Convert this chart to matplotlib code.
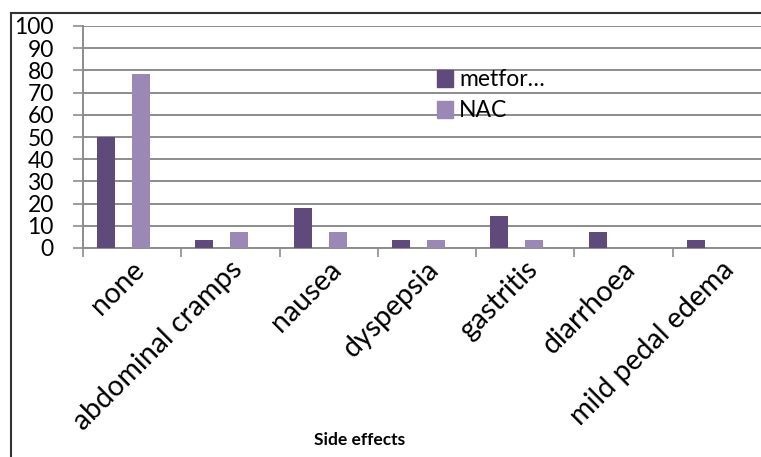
import matplotlib
matplotlib.use("Agg")
import matplotlib.pyplot as plt
import matplotlib.transforms as mtransforms
import numpy as np
from matplotlib.patches import Patch
from matplotlib.lines import Line2D

categories = ["none", "abdominal cramps", "nausea", "dyspepsia",
              "gastritis", "diarrhoea", "mild pedal edema"]
metformin = [50, 3.6, 17.9, 3.6, 14.3, 7.1, 3.6]
nac = [78.6, 7.1, 7.1, 3.6, 3.6, 0, 0]
series_names = ["metfor\u2026", "NAC"]
yticks = list(range(0, 101, 10))

plt.rcParams['font.family'] = ['Lato', 'DejaVu Sans']

W, H = 761, 457
fig = plt.figure(figsize=(W / 100, H / 100), dpi=100)

# plot area (runs past the right edge, as in the source)
ax = fig.add_axes([83 / W, 1 - 248 / H, (771 - 83) / W, (248 - 26) / H])
x = np.arange(len(categories))
bw = 0.183
ax.bar(x - 0.265, metformin, width=bw, color="#604a7b", zorder=3)
ax.bar(x + 0.09, nac, width=bw, color="#9c88b5", zorder=3)

ax.set_xlim(-0.5, len(categories) - 0.5)
ax.set_ylim(0, 100)
ax.set_yticks(yticks)
ax.set_yticklabels([str(v) for v in yticks], fontsize=16.5)
ax.yaxis.grid(True, color="#8c8c8c", linewidth=1.4, zorder=0)
ax.tick_params(axis="y", length=7, width=1.2, color="#8c8c8c", pad=14)

ax.set_xticks(np.arange(-0.5, len(categories), 1.0))
ax.set_xticklabels([])
ax.set_xticks(x, minor=True)
ax.set_xticklabels(categories, minor=True, rotation=45, ha="right",
                   rotation_mode="anchor", fontsize=20.5)
ax.tick_params(axis="x", which="major", length=6.5, width=1.2, color="#8c8c8c")
ax.tick_params(axis="x", which="minor", length=0, pad=6)
offset = mtransforms.ScaledTranslation(-0.01, 0, fig.dpi_scale_trans)
for lbl in ax.get_xticklabels(minor=True):
    lbl.set_transform(lbl.get_transform() + offset)

for s in ["top", "right"]:
    ax.spines[s].set_visible(False)
for s in ["left", "bottom"]:
    ax.spines[s].set_color("#8c8c8c")
    ax.spines[s].set_linewidth(1.4)
ax.set_facecolor("none")

handles = [Patch(color="#604a7b"), Patch(color="#9c88b5")]
fig.legend(handles, series_names, loc="upper left",
           bbox_to_anchor=(428 / W, 1 - 60 / H), frameon=False,
           fontsize=16.5, handlelength=0.7, handleheight=0.75,
           handletextpad=0.25, labelspacing=0.45, borderaxespad=0)

fig.text(360 / W, 1 - 440 / H, "Side effects", ha="center", va="center",
         fontsize=12.5, fontweight="bold")

# outer chart border
fig.add_artist(Line2D([11 / W, 11 / W], [0, 1 - 13 / H], transform=fig.transFigure,
                      color="#333333", linewidth=1.5))
fig.add_artist(Line2D([11 / W, 1], [1 - 13 / H, 1 - 13 / H], transform=fig.transFigure,
                      color="#333333", linewidth=1.5))

fig.savefig("out.png", dpi=100)
